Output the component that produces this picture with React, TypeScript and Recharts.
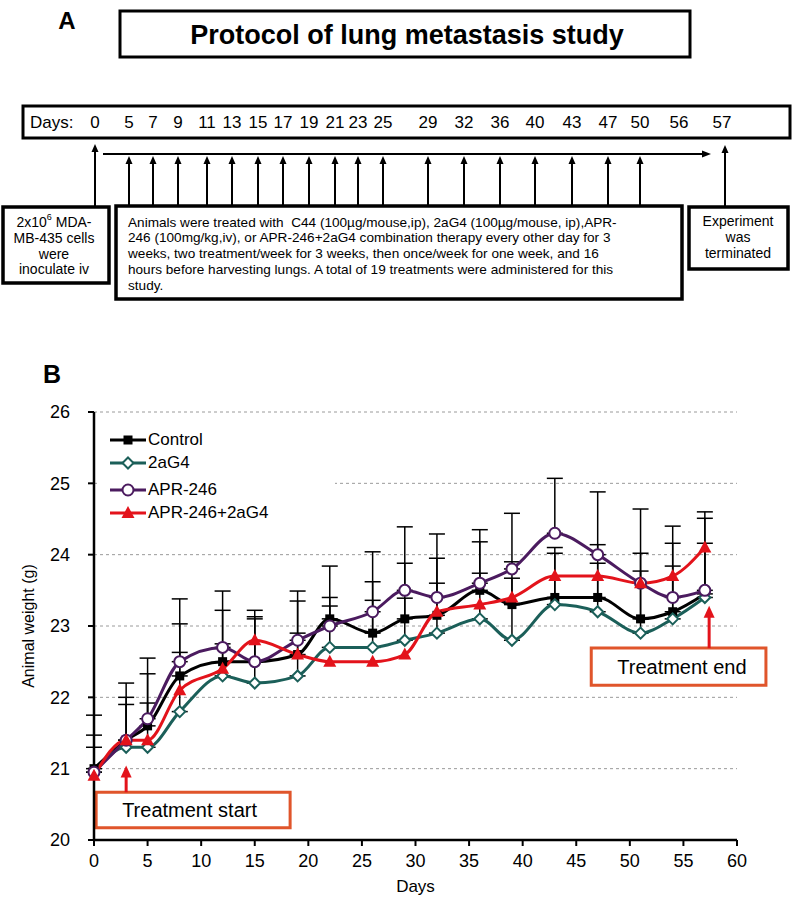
import React from 'react';
import {
  LineChart, Line, XAxis, YAxis, CartesianGrid, ErrorBar,
  ReferenceLine, ReferenceArea, ReferenceDot, Legend, Label,
} from 'recharts';

const FONT = "'Liberation Sans', Arial, Helvetica, sans-serif";
const BLACK = '#000000';
const TEAL = '#1b5f59';
const PURPLE = '#4b1b5f';
const RED = '#e3131b';
const ORANGE = '#e0552b';

// ---------- Panel B data ----------
const days = [0, 3, 5, 8, 12, 15, 19, 22, 26, 29, 32, 36, 39, 43, 47, 51, 54, 57];
const controlMean = [21.0, 21.4, 21.6, 22.3, 22.5, 22.5, 22.6, 23.1, 22.9, 23.1, 23.15, 23.5, 23.3, 23.4, 23.4, 23.1, 23.2, 23.45];
const controlSD = [0.47, 0.6, 0.73, 0.73, 0.72, 0.63, 0.75, 0.3, 0.72, 0.78, 0.8, 0.68, 0.6, 0.7, 0.74, 0.92, 0.96, 1.06];
const g4Mean = [20.95, 21.3, 21.3, 21.8, 22.3, 22.2, 22.3, 22.7, 22.7, 22.8, 22.9, 23.1, 22.8, 23.3, 23.2, 22.9, 23.1, 23.4];
const g4SD = [0.35, 0.6, 0.62, 0.83, 0.45, 0.9, 0.6, 0.58, 0.66, 0.59, 0.7, 0.64, 0.87, 0.72, 0.68, 0.87, 0.74, 0.76];
const aprMean = [20.95, 21.4, 21.7, 22.5, 22.7, 22.5, 22.8, 23.0, 23.2, 23.5, 23.4, 23.6, 23.8, 24.3, 24.0, 23.6, 23.4, 23.5];
const aprSD = [0.8, 0.8, 0.85, 0.88, 0.79, 0.72, 0.69, 0.84, 0.84, 0.89, 0.89, 0.75, 0.78, 0.77, 0.88, 1.04, 1.0, 1.1];
const comboMean = [20.9, 21.4, 21.4, 22.1, 22.4, 22.8, 22.6, 22.5, 22.5, 22.6, 23.2, 23.3, 23.4, 23.7, 23.7, 23.6, 23.7, 24.1];

const yTicks = [20, 21, 22, 23, 24, 25, 26];
const xTicks = [0, 5, 10, 15, 20, 25, 30, 35, 40, 45, 50, 55, 60];

const seriesNames = ['Control', '2aG4', 'APR-246', 'APR-246+2aG4'];

const rows = days.map((d, i) => ({
  day: d,
  control: controlMean[i],
  controlErr: [0, controlSD[i]],
  g4: g4Mean[i],
  g4Err: [0, g4SD[i]],
  apr: aprMean[i],
  aprErr: [0, aprSD[i]],
  combo: comboMean[i],
}));

// ---------- Panel A data ----------
const protocolDayLabels = ['0', '5', '7', '9', '11', '13', '15', '17', '19', '21', '23', '25', '29', '32', '36', '40', '43', '47', '50', '56', '57'];
const protocolLabelX = [95, 129, 153, 178, 207, 232, 258, 283, 309, 335, 358, 383, 428, 464, 500, 535, 572, 608, 640, 679, 722];
const treatmentLabelIdx = [1, 2, 3, 4, 5, 6, 7, 8, 9, 10, 11, 12, 13, 14, 15, 16, 17, 18];
const treatmentText = [
  'Animals were treated with  C44 (100µg/mouse,ip), 2aG4 (100µg/mouse, ip),APR-',
  '246 (100mg/kg,iv), or APR-246+2aG4 combination therapy every other day for 3',
  'weeks, two treatment/week for 3 weeks, then once/week for one week, and 16',
  'hours before harvesting lungs. A total of 19 treatments were administered for this',
  'study.',
];
const inocText = ['MB-435 cells', 'were', 'inoculate iv'];
const endText = ['Experiment', 'was', 'terminated'];

// ---------- markers ----------
type Shape = 'square' | 'diamond' | 'circle' | 'triangle';
const marker = (shape: Shape, color: string, cx: number, cy: number, key?: any) => {
  if (shape === 'square') {
    return <rect key={key} x={cx - 4.5} y={cy - 4.5} width={9} height={9} fill={color} />;
  }
  if (shape === 'diamond') {
    const s = 5.5;
    return (
      <polygon key={key} points={`${cx},${cy - s} ${cx + s},${cy} ${cx},${cy + s} ${cx - s},${cy}`}
        fill="#fff" stroke={color} strokeWidth={2} />
    );
  }
  if (shape === 'circle') {
    return <circle key={key} cx={cx} cy={cy} r={5.5} fill="#fff" stroke={color} strokeWidth={2} />;
  }
  return (
    <polygon key={key} points={`${cx},${cy - 7} ${cx + 6.5},${cy + 5} ${cx - 6.5},${cy + 5}`} fill={color} />
  );
};

const seriesMeta: { key: string; name: string; color: string; shape: Shape }[] = [
  { key: 'control', name: seriesNames[0], color: BLACK, shape: 'square' },
  { key: 'g4', name: seriesNames[1], color: TEAL, shape: 'diamond' },
  { key: 'apr', name: seriesNames[2], color: PURPLE, shape: 'circle' },
  { key: 'combo', name: seriesNames[3], color: RED, shape: 'triangle' },
];

const makeDot = (shape: Shape, color: string) => (p: any) => {
  if (p.cx == null || p.cy == null) return <g key={`e${p.index}`} />;
  return marker(shape, color, p.cx, p.cy, `${shape}-${p.index}`);
};

const legendRowTop = [4, 27, 54, 77];
const renderLegend = () => (
  <div style={{ position: 'relative', width: 235, height: 100, background: '#fff', fontFamily: FONT }}>
    {seriesMeta.map((s, i) => (
      <div key={s.key} style={{ position: 'absolute', left: 10, top: legendRowTop[i], height: 22, display: 'flex', alignItems: 'center', whiteSpace: 'nowrap' }}>
        <svg width={36} height={22}>
          <line x1={0} y1={11} x2={36} y2={11} stroke={s.color} strokeWidth={3} />
          {marker(s.shape, s.color, 18, 11)}
        </svg>
        <span style={{ fontSize: 17, marginLeft: 2, color: '#000' }}>{s.name}</span>
      </div>
    ))}
  </div>
);

const arrowUp = (p: any) => (
  <polygon points={`${p.cx},${p.cy - 6} ${p.cx + 5.5},${p.cy + 6} ${p.cx - 5.5},${p.cy + 6}`} fill={RED} />
);

// ---------- Panel A ----------
const ProtocolDiagram = () => {
  const head = (x: number, tipY: number) => (
    <polygon points={`${x},${tipY} ${x + 3.5},${tipY + 8} ${x - 3.5},${tipY + 8}`} fill="#000" />
  );
  return (
    <svg width={793} height={392} style={{ position: 'absolute', left: 0, top: 0 }} fontFamily={FONT}>
      <text x={67} y={20} fontSize={24} fontWeight="bold" textAnchor="middle" dominantBaseline="central">A</text>
      <rect x={120} y={11} width={570} height={46} fill="#fff" stroke="#000" strokeWidth={3} />
      <text x={407} y={35} fontSize={27} fontWeight="bold" textAnchor="middle" dominantBaseline="central">
        Protocol of lung metastasis study
      </text>

      <rect x={23} y={106} width={767} height={32} fill="#fff" stroke="#000" strokeWidth={3} />
      <text x={30} y={122} fontSize={17} dominantBaseline="central">Days:</text>
      {protocolDayLabels.map((l, i) => (
        <text key={l} x={protocolLabelX[i]} y={122} fontSize={17} textAnchor="middle" dominantBaseline="central">{l}</text>
      ))}

      {/* inoculation arrow */}
      <line x1={protocolLabelX[0]} y1={207} x2={protocolLabelX[0]} y2={150} stroke="#000" strokeWidth={2} />
      {head(protocolLabelX[0], 144)}

      {/* treatment timeline */}
      <line x1={103} y1={154} x2={703} y2={154} stroke="#000" strokeWidth={2} />
      <polygon points={`711,154 702,150.5 702,157.5`} fill="#000" />
      {treatmentLabelIdx.map((idx) => (
        <g key={idx}>
          <line x1={protocolLabelX[idx]} y1={206} x2={protocolLabelX[idx]} y2={162} stroke="#000" strokeWidth={2} />
          {head(protocolLabelX[idx], 156)}
        </g>
      ))}

      {/* termination arrow */}
      <line x1={725} y1={207} x2={725} y2={151} stroke="#000" strokeWidth={2} />
      {head(725, 145)}

      {/* boxes */}
      <rect x={3} y={207} width={106} height={76} fill="#fff" stroke="#000" strokeWidth={3.5} />
      <text x={54} y={222} fontSize={14} textAnchor="middle" dominantBaseline="central">
        <tspan>2x10</tspan>
        <tspan dy={-5} fontSize={9}>6</tspan>
        <tspan dy={5}> MDA-</tspan>
      </text>
      {inocText.map((t, i) => (
        <text key={t} x={54} y={238 + i * 15.7} fontSize={14} textAnchor="middle" dominantBaseline="central">{t}</text>
      ))}

      <rect x={116} y={206} width={566} height={93} fill="#fff" stroke="#000" strokeWidth={3.5} />
      {treatmentText.map((t, i) => (
        <text key={i} x={128} y={222 + i * 15.9} fontSize={13.6} dominantBaseline="central" style={{ whiteSpace: 'pre' }}>{t}</text>
      ))}

      <rect x={689} y={207} width={99} height={62} fill="#fff" stroke="#000" strokeWidth={3.5} />
      {endText.map((t, i) => (
        <text key={t} x={738} y={221 + i * 16} fontSize={14} textAnchor="middle" dominantBaseline="central">{t}</text>
      ))}

      <text x={52} y={374} fontSize={25} fontWeight="bold" textAnchor="middle" dominantBaseline="central">B</text>
    </svg>
  );
};

export default function App() {
  return (
    <div style={{ position: 'absolute', left: 0, top: 0, width: 793, height: 899, background: '#fff', fontFamily: FONT }}>
      <ProtocolDiagram />
      <div style={{ position: 'absolute', left: 0, top: 380, width: 793, height: 519 }}>
        <LineChart width={793} height={519} data={rows} margin={{ top: 32, right: 56, left: 0, bottom: 0 }} style={{ fontFamily: FONT }}>
          <CartesianGrid vertical={false} strokeDasharray="3 3" stroke="#9a9a9a" />
          <XAxis
            type="number" dataKey="day" domain={[0, 60]} ticks={xTicks} interval={0} height={59}
            tick={{ fill: '#000', fontSize: 18 }} tickSize={6} tickMargin={8}
            axisLine={{ stroke: '#000', strokeWidth: 2.5 }} tickLine={{ stroke: '#000', strokeWidth: 2 }}
          >
            <Label content={(p: any) => {
              const vb = p.viewBox || {};
              return <text x={vb.x + vb.width / 2} y={506} fontSize={17} textAnchor="middle" dominantBaseline="central" fill="#000">Days</text>;
            }} />
          </XAxis>
          <YAxis
            type="number" domain={[20, 26]} ticks={yTicks} interval={0} width={94}
            tick={{ fill: '#000', fontSize: 18 }} tickSize={6} tickMargin={18}
            axisLine={{ stroke: '#000', strokeWidth: 2.5 }} tickLine={{ stroke: '#000', strokeWidth: 2 }}
          >
            <Label content={() => (
              <text x={28} y={246} fontSize={16} textAnchor="middle" dominantBaseline="central" fill="#000" transform="rotate(-90 28 246)">
                Animal weight (g)
              </text>
            )} />
          </YAxis>

          <ReferenceArea x1={0.2} x2={18.3} y1={20.17} y2={20.67} fill="#fff" fillOpacity={1} stroke={ORANGE} strokeWidth={3} ifOverflow="visible"
            label={{ value: 'Treatment start', position: 'insideLeft', offset: 26, fill: '#000', fontSize: 20 }} />
          <ReferenceArea x1={46.4} x2={62.7} y1={22.17} y2={22.69} fill="#fff" fillOpacity={1} stroke={ORANGE} strokeWidth={3} ifOverflow="visible"
            label={{ value: 'Treatment end', position: 'insideLeft', offset: 26, fill: '#000', fontSize: 20 }} />

          <Legend content={renderLegend} layout="horizontal" verticalAlign="middle" align="center"
            wrapperStyle={{ position: 'absolute', left: 100, top: 45, width: 235, height: 100 }} />

          <Line type="monotone" dataKey="control" name={seriesNames[0]} stroke={BLACK} strokeWidth={3}
            dot={makeDot('square', BLACK)} activeDot={false} isAnimationActive={false}>
            <ErrorBar dataKey="controlErr" stroke="#000" strokeWidth={1.5} width={8} direction="y" />
          </Line>
          <Line type="monotone" dataKey="g4" name={seriesNames[1]} stroke={TEAL} strokeWidth={3}
            dot={makeDot('diamond', TEAL)} activeDot={false} isAnimationActive={false}>
            <ErrorBar dataKey="g4Err" stroke="#000" strokeWidth={1.5} width={8} direction="y" />
          </Line>
          <Line type="monotone" dataKey="apr" name={seriesNames[2]} stroke={PURPLE} strokeWidth={3}
            dot={makeDot('circle', PURPLE)} activeDot={false} isAnimationActive={false}>
            <ErrorBar dataKey="aprErr" stroke="#000" strokeWidth={1.5} width={8} direction="y" />
          </Line>
          <Line type="monotone" dataKey="combo" name={seriesNames[3]} stroke={RED} strokeWidth={3}
            dot={makeDot('triangle', RED)} activeDot={false} isAnimationActive={false} />

          <ReferenceLine segment={[{ x: 3, y: 20.67 }, { x: 3, y: 20.9 }]} stroke={RED} strokeWidth={3} ifOverflow="visible" />
          <ReferenceDot x={3} y={20.96} r={6} shape={arrowUp} ifOverflow="visible" />
          <ReferenceLine segment={[{ x: 57.4, y: 22.69 }, { x: 57.4, y: 23.14 }]} stroke={RED} strokeWidth={3} ifOverflow="visible" />
          <ReferenceDot x={57.4} y={23.2} r={6} shape={arrowUp} ifOverflow="visible" />
        </LineChart>
      </div>
    </div>
  );
}
